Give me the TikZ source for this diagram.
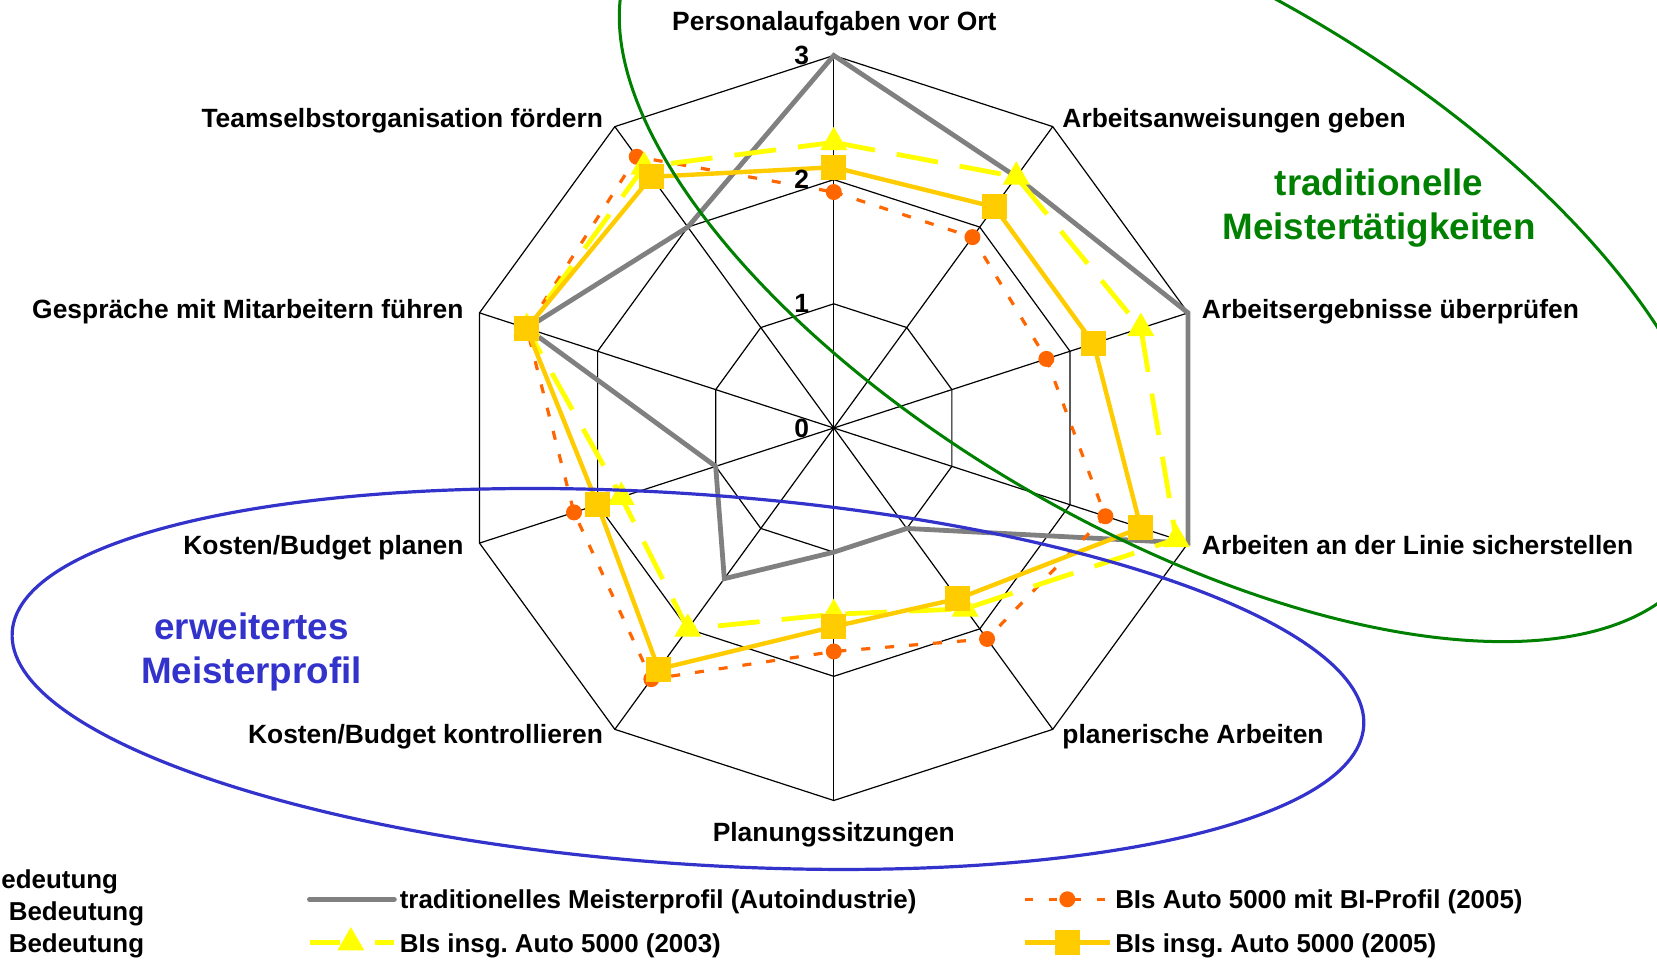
\documentclass[tikz,border=0pt]{standalone}
\usepackage{fontspec}
\setmainfont{Liberation Sans}
\usetikzlibrary{shapes.geometric}
\definecolor{sergray}{HTML}{808080}
\definecolor{serorange}{HTML}{FF6600}
\definecolor{seryellow}{HTML}{FFFF00}
\definecolor{sergold}{HTML}{FFCC00}
\definecolor{elgreen}{HTML}{008000}
\definecolor{elblue}{HTML}{3333CC}
\frenchspacing
\begin{document}
\begin{tikzpicture}[x=0.5284pt,y=0.5284pt,
  lab/.style={font=\fontsize{13.2}{15}\selectfont\bfseries, inner sep=0pt, text=black},
  leglab/.style={font=\fontsize{12.95}{15}\selectfont\bfseries, inner sep=0pt, text=black},
  biglab/.style={font=\fontsize{18.4}{22}\selectfont\bfseries, inner sep=0pt},
  gridline/.style={black, line width=0.6pt},
  grayser/.style={sergray, line width=2.4pt, line join=miter},
  orser/.style={serorange, line width=1.6pt, dash pattern=on 4.5pt off 7.5pt},
  yelser/.style={seryellow, line width=2.4pt, dash pattern=on 21pt off 11pt},
  goldser/.style={sergold, line width=2.2pt},
  sqmark/.style={fill=sergold, rectangle, minimum size=12.5pt, inner sep=0pt},
  cmark/.style={fill=serorange, circle, minimum size=8pt, inner sep=0pt},
  tmark/.style={fill=seryellow, regular polygon, regular polygon sides=3, minimum size=15.6pt, inner sep=0pt},
]
\useasboundingbox (0,0) rectangle (1568,-913);
\clip (0,0) rectangle (1568,-913);

\begin{scope}[shift={(789,-405)}]
  \coordinate (ctr) at (0,0);
  \foreach \i in {0,...,9} \coordinate (ax\i) at ({90-36*\i}:352.5);
  % grid
  \foreach \l in {1,2,3}
    \draw[gridline] (90:{117.5*\l}) \foreach \i in {1,...,9}{ -- ({90-36*\i}:{117.5*\l})} -- cycle;
  \foreach \i in {0,...,9} \draw[gridline] (ctr) -- (ax\i);
  % data
  \foreach \v [count=\i from 0] in {3,2.5,3,3,1,1,1.5,1,2.6,2}
    \coordinate (g\i) at ({90-36*\i}:{117.5*\v});
  \foreach \v [count=\i from 0] in {1.9,1.9,1.8,2.3,2.1,1.8,2.5,2.2,2.6,2.7}
    \coordinate (o\i) at ({90-36*\i}:{117.5*\v});
  \foreach \v [count=\i from 0] in {2.3,2.5,2.6,2.9,1.8,1.5,2.0,1.8,2.6,2.6}
    \coordinate (y\i) at ({90-36*\i}:{117.5*\v});
  \foreach \v [count=\i from 0] in {2.1,2.2,2.2,2.6,1.7,1.6,2.4,2.0,2.6,2.5}
    \coordinate (s\i) at ({90-36*\i}:{117.5*\v});
  \draw[grayser] (g0) -- (g1) -- (g2) -- (g3) -- (g4) -- (g5) -- (g6) -- (g7) -- (g8) -- (g9) -- cycle;
  \draw[orser] (o0) -- (o1) -- (o2) -- (o3) -- (o4) -- (o5) -- (o6) -- (o7) -- (o8) -- (o9) -- cycle;
  \foreach \i in {0,...,9} \node[cmark] (om\i) at (o\i) {};
  \draw[yelser] (y0) -- (y1) -- (y2) -- (y3) -- (y4) -- (y5) -- (y6) -- (y7) -- (y8) -- (y9) -- cycle;
  \foreach \i in {0,...,9} \node[tmark] (ym\i) at (y\i) {};
  \draw[goldser] (s0) -- (s1) -- (s2) -- (s3) -- (s4) -- (s5) -- (s6) -- (s7) -- (s8) -- (s9) -- cycle;
  \foreach \i in {0,...,9} \node[sqmark] (sm\i) at (s\i) {};
\end{scope}

% tick labels
\node[lab, anchor=base east] (t3) at (766,-61) {3};
\node[lab, anchor=base east] (t2) at (766,-178.5) {2};
\node[lab, anchor=base east] (t1) at (766,-296) {1};
\node[lab, anchor=base east] (t0) at (766,-414) {0};

% axis labels
\node[lab, anchor=base] (l0) at (789.5,-29) {Personalaufgaben vor Ort};
\node[lab, anchor=base west] (l1) at (1005,-121) {Arbeitsanweisungen geben};
\node[lab, anchor=base west] (l2) at (1137,-301) {Arbeitsergebnisse überprüfen};
\node[lab, anchor=base west] (l3) at (1137,-525) {Arbeiten an der Linie sicherstellen};
\node[lab, anchor=base west] (l4) at (1005,-704) {planerische Arbeiten};
\node[lab, anchor=base] (l5) at (789,-796) {Planungssitzungen};
\node[lab, anchor=base east] (l6) at (571,-704) {Kosten/Budget kontrollieren};
\node[lab, anchor=base east] (l7) at (439,-525) {Kosten/Budget planen};
\node[lab, anchor=base east] (l8) at (439,-301) {Gespräche mit Mitarbeitern führen};
\node[lab, anchor=base east] (l9) at (571,-121) {Teamselbstorganisation fördern};

% ellipses
\draw[elgreen, line width=1.5pt, rotate around={-30:(1105,-240)}] (1105,-240) ellipse [x radius=580, y radius=260];
\draw[elblue, line width=1.6pt, rotate around={-4:(651,-642.5)}] (651,-642.5) ellipse [x radius=641, y radius=175];

\node[biglab, text=elgreen, anchor=base] (gt1) at (1305,-185) {traditionelle};
\node[biglab, text=elgreen, anchor=base] (gt2) at (1305,-227) {Meistertätigkeiten};
\node[biglab, text=elblue, anchor=base] (bt1) at (238,-605) {erweitertes};
\node[biglab, text=elblue, anchor=base] (bt2) at (238,-647) {Meisterprofil};

% left legend fragments
\node[leglab, anchor=base west] (b1) at (1,-841) {edeutung};
\node[leglab, anchor=base west] (b2) at (8,-871) {Bedeutung};
\node[leglab, anchor=base west] (b3) at (8,-901) {Bedeutung};

% legend
\coordinate (lga) at (293,-851); \coordinate (lgb) at (373,-851);
\draw[sergray, line width=2.6pt, line cap=round] (lga) -- (lgb);
\node[leglab, anchor=base west] (lgt1) at (378,-860) {traditionelles Meisterprofil (Autoindustrie)};

\coordinate (loa) at (970,-851); \coordinate (lob) at (1050,-851); \coordinate (loc) at (1010,-851);
\draw[orser, dash pattern=on 4pt off 8pt, dash phase=0pt] (loa) -- (lob);
\node[cmark] (lom) at (loc) {};
\node[leglab, anchor=base west] (lgt2) at (1055,-860) {BIs Auto 5000 mit BI-Profil (2005)};

\coordinate (lya) at (293,-892); \coordinate (lyb) at (322,-892);
\coordinate (lyc) at (355,-892); \coordinate (lyd) at (373,-892); \coordinate (lym) at (332,-892);
\draw[seryellow, line width=2.4pt] (lya) -- (lyb);
\draw[seryellow, line width=2.4pt] (lyc) -- (lyd);
\node[tmark] (lymk) at (lym) {};
\node[leglab, anchor=base west] (lgt3) at (378,-901) {BIs insg. Auto 5000 (2003)};

\coordinate (lsa) at (970,-892); \coordinate (lsb) at (1050,-892); \coordinate (lsc) at (1010,-892);
\draw[goldser] (lsa) -- (lsb);
\node[sqmark] (lsm) at (lsc) {};
\node[leglab, anchor=base west] (lgt4) at (1055,-901) {BIs insg. Auto 5000 (2005)};
\end{tikzpicture}
\end{document}
